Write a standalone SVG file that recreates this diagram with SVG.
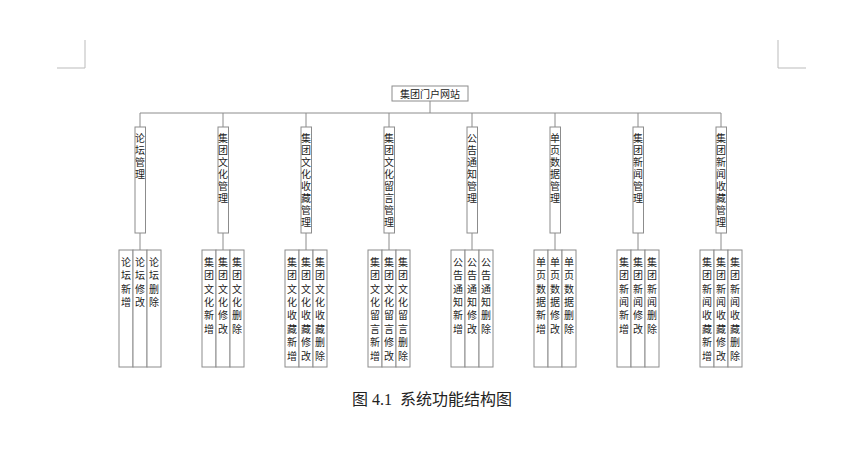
<svg xmlns="http://www.w3.org/2000/svg" width="866" height="449" viewBox="0 0 866 449">
<style>
.b{fill:#fff;stroke:#8c8c8c;stroke-width:1}
.l{stroke:#8c8c8c;stroke-width:1;fill:none}
.t{font-family:"Noto Sans CJK SC",sans-serif;font-size:10px;fill:#222}
.h{text-anchor:middle}
.v{writing-mode:vertical-rl;text-orientation:upright;letter-spacing:2px}
.w{writing-mode:vertical-rl;text-orientation:upright;letter-spacing:3.4px}
.c{stroke:#bbb;stroke-width:1;fill:none}
.cap{font-family:"Liberation Serif","Noto Sans CJK SC",serif;font-size:16px;fill:#222;text-anchor:middle}
</style>
<rect width="866" height="449" fill="#fff"/>
<path class="c" d="M85,40V68H57M778,40V68H806"/>
<g id="root"><rect class="b" x="392" y="86" width="76" height="15"/><text class="t h" x="430" y="97.5">集团门户网站</text></g>
<g id="connectors" class="l">
<path d="M430,101V113M140,113H721"/>
<path d="M140,113V127M223,113V127M306,113V127M389,113V127M472,113V127M555,113V127M638,113V127M721,113V127"/>
<path d="M140,233V250M223,233V250M306,233V250M389,233V250M472,233V250M555,233V250M638,233V250M721,233V250"/>
</g>
<g id="m1"><rect class="b" x="135" y="127" width="10.5" height="106"/><text class="t v" x="140" y="133">论坛管理</text></g>
<g id="m2"><rect class="b" x="218" y="127" width="10.5" height="106"/><text class="t v" x="223" y="133">集团文化管理</text></g>
<g id="m3"><rect class="b" x="301" y="127" width="10.5" height="106"/><text class="t v" x="306" y="133">集团文化收藏管理</text></g>
<g id="m4"><rect class="b" x="384" y="127" width="10.5" height="106"/><text class="t v" x="389" y="133">集团文化留言管理</text></g>
<g id="m5"><rect class="b" x="467" y="127" width="10.5" height="106"/><text class="t v" x="472" y="133">公告通知管理</text></g>
<g id="m6"><rect class="b" x="550" y="127" width="10.5" height="106"/><text class="t v" x="555" y="133">单页数据管理</text></g>
<g id="m7"><rect class="b" x="633" y="127" width="10.5" height="106"/><text class="t v" x="638" y="133">集团新闻管理</text></g>
<g id="m8"><rect class="b" x="716" y="127" width="10.5" height="106"/><text class="t v" x="721" y="133">集团新闻收藏管理</text></g>

<g id="c1"><rect class="b" x="119" y="250" width="14" height="117"/><rect class="b" x="133" y="250" width="14" height="117"/><rect class="b" x="147" y="250" width="14" height="117"/>
<text class="t w" x="126" y="257">论坛新增</text><text class="t w" x="140" y="257">论坛修改</text><text class="t w" x="154" y="257">论坛删除</text></g>
<g id="c2"><rect class="b" x="202" y="250" width="14" height="117"/><rect class="b" x="216" y="250" width="14" height="117"/><rect class="b" x="230" y="250" width="14" height="117"/>
<text class="t w" x="209" y="257">集团文化新增</text><text class="t w" x="223" y="257">集团文化修改</text><text class="t w" x="237" y="257">集团文化删除</text></g>
<g id="c3"><rect class="b" x="285" y="250" width="14" height="117"/><rect class="b" x="299" y="250" width="14" height="117"/><rect class="b" x="313" y="250" width="14" height="117"/>
<text class="t w" x="292" y="257">集团文化收藏新增</text><text class="t w" x="306" y="257">集团文化收藏修改</text><text class="t w" x="320" y="257">集团文化收藏删除</text></g>
<g id="c4"><rect class="b" x="368" y="250" width="14" height="117"/><rect class="b" x="382" y="250" width="14" height="117"/><rect class="b" x="396" y="250" width="14" height="117"/>
<text class="t w" x="375" y="257">集团文化留言新增</text><text class="t w" x="389" y="257">集团文化留言修改</text><text class="t w" x="403" y="257">集团文化留言删除</text></g>
<g id="c5"><rect class="b" x="451" y="250" width="14" height="117"/><rect class="b" x="465" y="250" width="14" height="117"/><rect class="b" x="479" y="250" width="14" height="117"/>
<text class="t w" x="458" y="257">公告通知新增</text><text class="t w" x="472" y="257">公告通知修改</text><text class="t w" x="486" y="257">公告通知删除</text></g>
<g id="c6"><rect class="b" x="534" y="250" width="14" height="117"/><rect class="b" x="548" y="250" width="14" height="117"/><rect class="b" x="562" y="250" width="14" height="117"/>
<text class="t w" x="541" y="257">单页数据新增</text><text class="t w" x="555" y="257">单页数据修改</text><text class="t w" x="569" y="257">单页数据删除</text></g>
<g id="c7"><rect class="b" x="617" y="250" width="14" height="117"/><rect class="b" x="631" y="250" width="14" height="117"/><rect class="b" x="645" y="250" width="14" height="117"/>
<text class="t w" x="624" y="257">集团新闻新增</text><text class="t w" x="638" y="257">集团新闻修改</text><text class="t w" x="652" y="257">集团新闻删除</text></g>
<g id="c8"><rect class="b" x="700" y="250" width="14" height="117"/><rect class="b" x="714" y="250" width="14" height="117"/><rect class="b" x="728" y="250" width="14" height="117"/>
<text class="t w" x="707" y="257">集团新闻收藏新增</text><text class="t w" x="721" y="257">集团新闻收藏修改</text><text class="t w" x="735" y="257">集团新闻收藏删除</text></g>
<text class="cap" x="432" y="405" xml:space="preserve">图 4.1  系统功能结构图</text>
</svg>
